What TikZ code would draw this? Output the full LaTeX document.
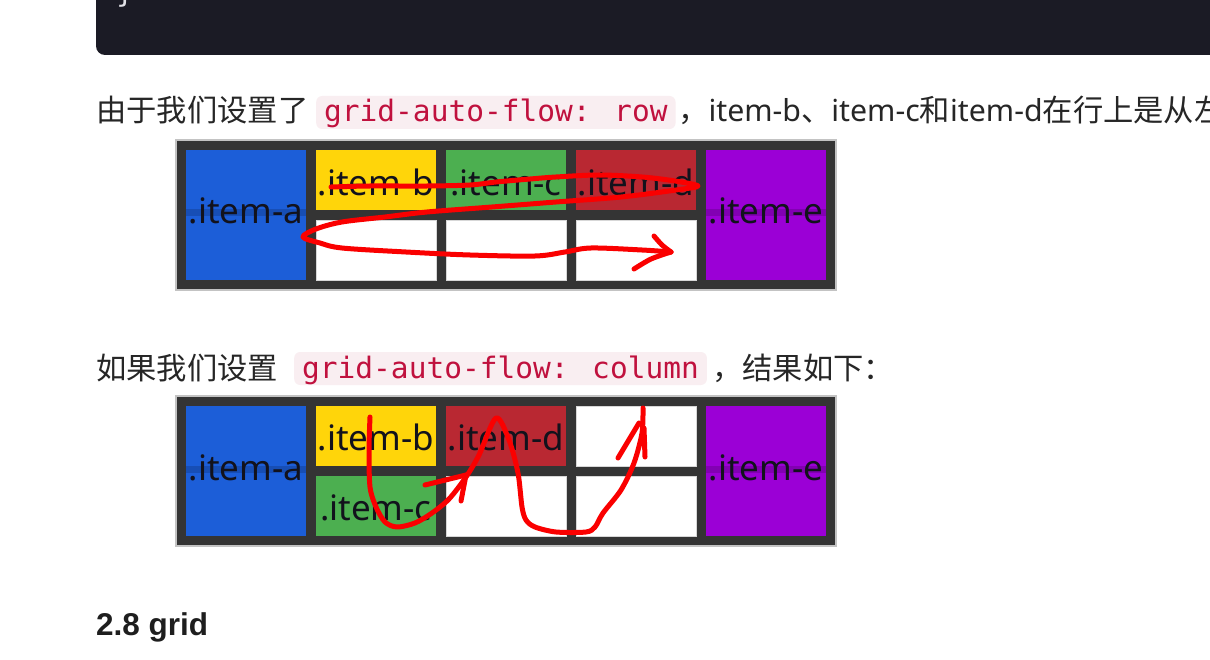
\documentclass[tikz,border=0pt]{standalone}
\usepackage{fontspec}
\setmainfont{Noto Sans}
\newfontfamily\cjkfont{Noto Sans CJK SC}
\newfontfamily\codefont{DejaVu Sans Mono}
\newfontfamily\headfont{Liberation Sans}
\definecolor{codeblock}{RGB}{27,27,37}
\definecolor{bracecol}{RGB}{225,225,230}
\definecolor{bodytext}{RGB}{38,38,38}
\definecolor{codered}{RGB}{192,17,62}
\definecolor{codebg}{RGB}{249,238,241}
\definecolor{griddark}{RGB}{52,52,52}
\definecolor{gridedge}{RGB}{195,195,195}
\definecolor{cblue}{RGB}{28,94,216}
\definecolor{cyellow}{RGB}{255,213,10}
\definecolor{cgreen}{RGB}{76,175,80}
\definecolor{cred}{RGB}{185,40,50}
\definecolor{cpurple}{RGB}{155,0,214}
\definecolor{labeltext}{RGB}{18,18,28}
\definecolor{scribble}{RGB}{250,0,0}
\begin{document}
\begin{tikzpicture}[x=1pt,y=-1pt,
  body/.style={anchor=base west,inner sep=0pt,text=bodytext,font=\fontsize{30.3}{30}\selectfont},
  codebox/.style={anchor=base west,fill=codebg,rounded corners=6pt,text=codered,
    font=\codefont\fontsize{29.5}{30}\selectfont,inner xsep=8pt,inner ysep=3pt,
    text height=23pt,text depth=4pt},
  gridbox/.style={fill=griddark,draw=gridedge,line width=1.5pt,inner sep=0pt,
    minimum width=660pt,minimum height=150pt},
  cell/.style={inner sep=0pt,minimum width=120pt,minimum height=60pt},
  tallcell/.style={cell,minimum height=130pt},
  emptycell/.style={cell,fill=white,draw={rgb,255:red,215;green,215;blue,215},line width=0.6pt},
  lbl/.style={anchor=base,inner sep=0pt,text=labeltext,font=\fontsize{35}{35}\selectfont},
  band/.style={fill=black,opacity=0.16},
  scrib/.style={draw=scribble,line width=5pt,line cap=round,line join=round}
]
\useasboundingbox (0,0) rectangle (1210,660);
\clip (0,0) rectangle (1210,660);
\fill[white] (0,0) rectangle (1210,660);

% code block remnant
\fill[codeblock,rounded corners=9pt] (96,-40) rectangle (1260,55);
\node[anchor=base west,inner sep=0pt,text=bracecol,font=\codefont\fontsize{29.5}{30}\selectfont] (brace) at (116,3) {\}};

% line 1
\node[body] (t1a) at (96,122) {\cjkfont 由于我们设置了};
\node[codebox] (c1) at (316,122) {grid-auto-flow: row};
\node[body] (t1b) at (678,122) {{\cjkfont ，}item-b{\cjkfont 、}item-c{\cjkfont 和}item-d{\cjkfont 在行上是从左}};

% grid 1
\node[gridbox] (g1) at (506,215) {};
\node[tallcell,fill=cblue] (a1) at (246,215) {};
\node[cell,fill=cyellow] (b1) at (376,180) {};
\node[cell,fill=cgreen] (c1c) at (506,180) {};
\node[cell,fill=cred] (d1) at (636,180) {};
\node[tallcell,fill=cpurple] (e1) at (766,215) {};
\node[emptycell] (w11) at (376,250) {};
\node[emptycell] (w12) at (506,250) {};
\node[emptycell] (w13) at (636,250) {};
\fill[band] (a1.west |- 0,209) rectangle (a1.east |- 0,216);
\fill[band] (e1.west |- 0,209) rectangle (e1.east |- 0,216);
\node[lbl] (la1) at (246,224) {.item-a};
\node[lbl] (lb1) at (376,196) {.item-b};
\node[lbl] (lc1) at (506,196) {.item-c};
\node[lbl] (ld1) at (636,196) {.item-d};
\node[lbl] (le1) at (766,224) {.item-e};

% scribble 1
\draw[scrib] plot[smooth,tension=0.55] coordinates {
 (331,187) (370,186) (427,186) (470,185) (496,182) (530,179) (556,177) (599,175)
 (642,177) (675,181) (698,186) (676,190) (621,197) (556,202) (492,207) (427,212)
 (385,217) (342,222) (316,229) (303,237) (320,243) (342,248) (406,252) (470,255)
 (535,256) (565,252) (591,248) (642,250) (671,252)};
\draw[scrib] plot[smooth,tension=0.5] coordinates {(654,236) (662,245) (671,252)};
\draw[scrib] plot[smooth,tension=0.5] coordinates {(671,252) (651,259) (634,269)};

% line 2
\node[body] (t2a) at (96,379) {\cjkfont 如果我们设置};
\node[codebox] (c2) at (294,378) {grid-auto-flow: column};
\node[body] (t2b) at (712,379) {\cjkfont ，结果如下：};

% grid 2
\node[gridbox] (g2) at (506,471) {};
\node[tallcell,fill=cblue] (a2) at (246,471) {};
\node[cell,fill=cyellow] (b2) at (376,436) {};
\node[cell,fill=cgreen] (c2c) at (376,506) {};
\node[cell,fill=cred] (d2) at (506,436) {};
\node[emptycell] (w21) at (506,506) {};
\node[emptycell] (w22) at (636,436) {};
\node[emptycell] (w23) at (636,506) {};
\node[tallcell,fill=cpurple] (e2) at (766,471) {};
\fill[band] (a2.west |- 0,466) rectangle (a2.east |- 0,473);
\fill[band] (e2.west |- 0,466) rectangle (e2.east |- 0,473);
\node[lbl] (la2) at (246,480) {.item-a};
\node[lbl] (lb2) at (376,450) {.item-b};
\node[lbl] (lc2) at (376,520) {.item-c};
\node[lbl] (ld2) at (506,450) {.item-d};
\node[lbl] (le2) at (766,480) {.item-e};

% scribble 2
\draw[scrib] plot[smooth,tension=0.5] coordinates {
 (370,417) (369,450) (370,487) (376,507) (385,522) (397,527) (415,523) (432,513)
 (449,499) (466,477) (479,455) (496,418) (509,440) (518,473) (522,507) (526,520)
 (535,527) (556,532) (586,532) (595,527) (603,513) (621,490) (634,463) (642,433) (643,408)};
\draw[scrib] (425,485) -- (466,475);
\draw[scrib] (466,475) -- (461,501);
\draw[scrib] (618,458) -- (639,423);
\draw[scrib] (644,428) -- (645,457);

% heading
\node[anchor=base west,inner sep=0pt,text={rgb,255:red,30;green,30;blue,30},font=\headfont\bfseries\fontsize{31.5}{32}\selectfont] (h) at (96,635) {2.8 grid};
\end{tikzpicture}
\end{document}
